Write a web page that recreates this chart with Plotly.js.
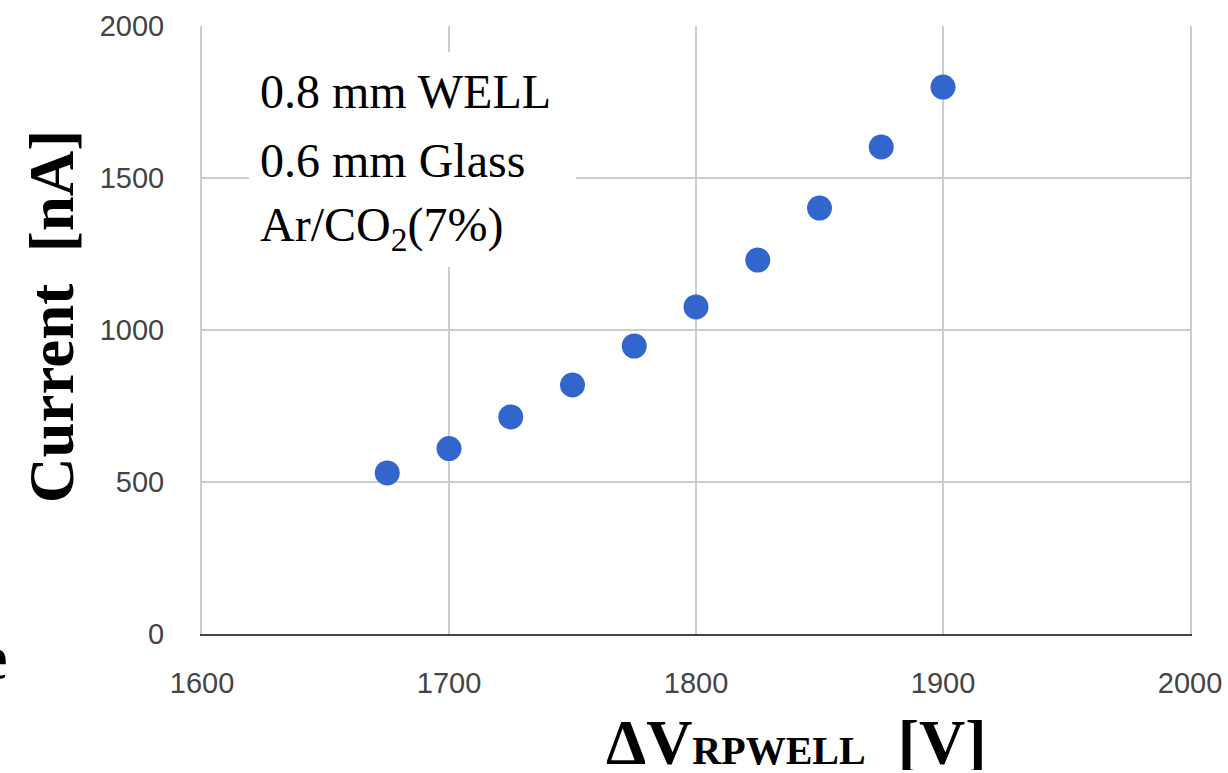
<!DOCTYPE html>
<html>
<head>
<meta charset="utf-8">
<script src="https://cdn.plot.ly/plotly-3.0.1.min.js"></script>
<style>html,body{margin:0;padding:0;background:#fff;}#chart{width:1228px;height:773px;}</style>
</head>
<body>
<div id="chart"></div>
<script>
// Data
const voltage = [1675, 1700, 1725, 1750, 1775, 1800, 1825, 1850, 1875, 1900];
const current = [530, 610, 714, 819, 947, 1076, 1230, 1401, 1602, 1799];
const xTicks = [1600, 1700, 1800, 1900, 2000];
const yTicks = [0, 500, 1000, 1500, 2000];
const infoLines = ["0.8 mm WELL", "0.6 mm Glass", "Ar/CO<sub>2</sub>(7%)"];

const serif = "Liberation Serif, Times New Roman, serif";
const sans = "Liberation Sans, Arial, sans-serif";

const trace = {
  x: voltage, y: current, type: "scatter", mode: "markers",
  marker: {color: "#3366cc", size: 25},
  hoverinfo: "x+y", showlegend: false
};

const infoY = [92, 160, 228]; // pixel centres of lines
const plotTop = 26, plotH = 608;
const annotations = infoLines.map((t, i) => ({
  text: t, xref: "paper", yref: "paper",
  x: (258 - 202) / 988, y: 1 - (infoY[i] - plotTop) / plotH,
  xanchor: "left", yanchor: "middle", showarrow: false,
  font: {family: serif, size: 48, color: "#000"}
}));

annotations.push({
  text: "Current\u00a0 [nA]", textangle: -90, xref: "paper", yref: "paper",
  x: (52 - 202) / 988, y: 1 - (317 - plotTop) / plotH,
  xanchor: "center", yanchor: "middle", showarrow: false,
  font: {family: serif, size: 63, color: "#000", weight: "bold"}
});
annotations.push({
  text: "<b>ΔV<span style='font-size:40px'>RPWELL</span>\u00a0 [V]</b>", xref: "paper", yref: "paper",
  x: (796 - 202) / 988, y: 1 - (772 - plotTop) / plotH,
  xanchor: "center", yanchor: "bottom", height: 56, valign: "middle", showarrow: false,
  font: {family: serif, size: 64, color: "#000"}
});
annotations.push({
  text: "<b>e</b>", xref: "paper", yref: "paper",
  x: (9 - 202) / 988, y: 1 - (657 - plotTop) / plotH,
  xanchor: "right", yanchor: "middle", showarrow: false,
  font: {family: serif, size: 64, color: "#000"}
});

const layout = {
  width: 1228, height: 773,
  margin: {l: 202, r: 38, t: 26, b: 139, pad: 0},
  paper_bgcolor: "#fff", plot_bgcolor: "#fff",
  xaxis: {
    range: [1600, 2000], tickvals: xTicks, ticktext: xTicks.map(String),
    showgrid: true, gridcolor: "#cccccc", gridwidth: 2,
    showline: true, linecolor: "#444", linewidth: 2,
    zeroline: false, ticks: "", ticklabelstandoff: 22,
    tickfont: {family: sans, size: 29, color: "#444"}
  },
  yaxis: {
    range: [0, 2000], tickvals: yTicks, ticktext: yTicks.map(String),
    showgrid: true, gridcolor: "#cccccc", gridwidth: 2,
    showline: true, mirror: true, linecolor: "#cccccc", linewidth: 2,
    zeroline: false, ticks: "", ticklabelstandoff: 30,
    tickfont: {family: sans, size: 29, color: "#444"}
  },
  shapes: [{
    type: "rect", xref: "x", yref: "y",
    x0: 1619, x1: 1751.5, y0: 1207, y1: 1914,
    fillcolor: "#fff", line: {width: 0}
  }],
  annotations: annotations
};

Plotly.newPlot("chart", [trace], layout, {displayModeBar: false, staticPlot: true});
</script>
</body>
</html>
